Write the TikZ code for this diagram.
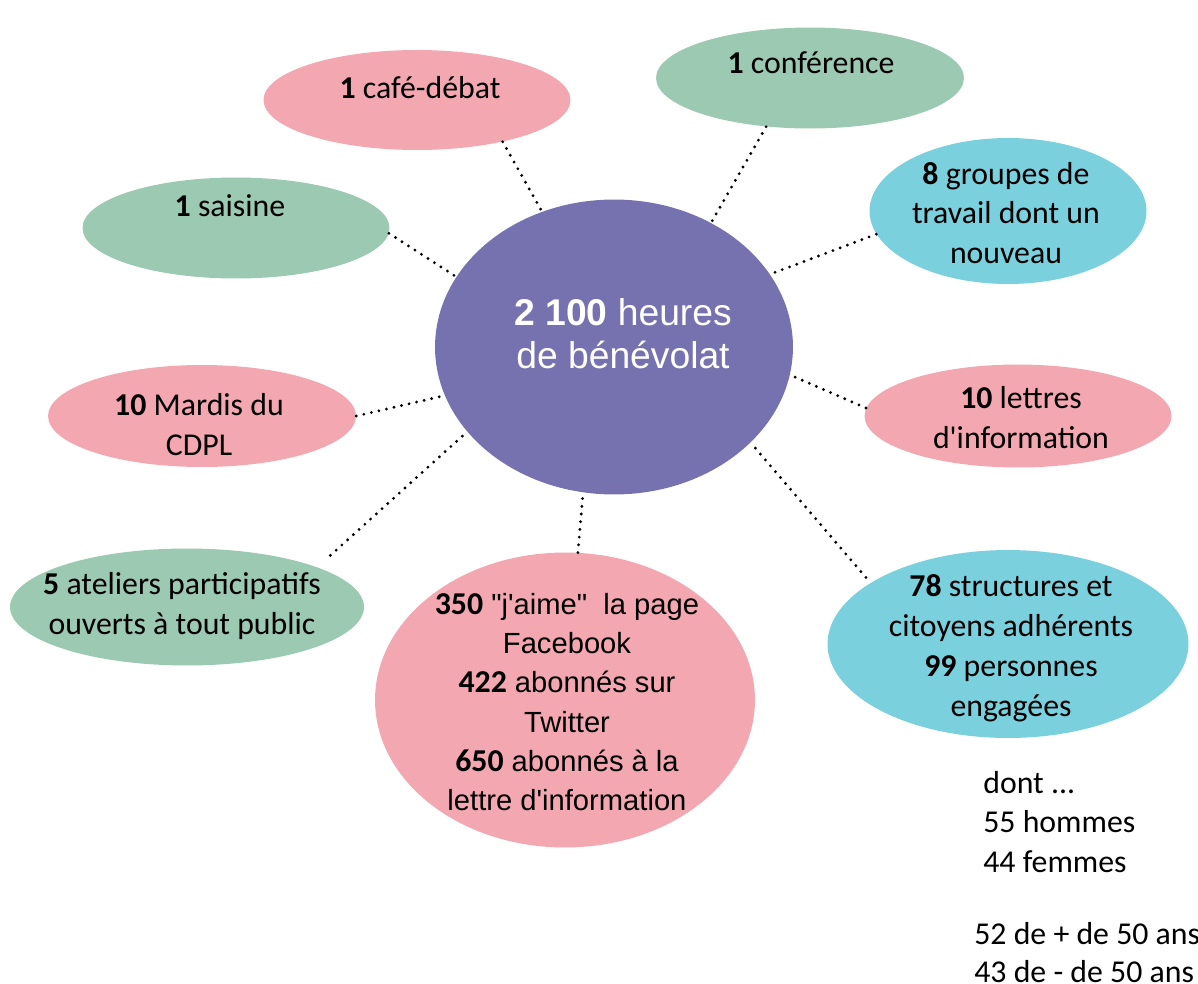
\documentclass[tikz,border=0pt]{standalone}
\usepackage{fontspec}
\newfontfamily\calibrif{Carlito}
\newfontfamily\arialf{Liberation Sans}
\usetikzlibrary{shapes.geometric}
\definecolor{pinkf}{HTML}{F3A7B1}
\definecolor{greenf}{HTML}{9CC9B1}
\definecolor{cyanf}{HTML}{7AD1DD}
\definecolor{purplef}{HTML}{7672B0}
\newcommand{\bnum}[1]{{\calibrif\bfseries\fontsize{18.1}{22.4}\selectfont #1}}
\tikzset{
  bub/.style={ellipse, inner sep=0pt, draw=none},
  lbl/.style={align=center, inner sep=0pt, font=\calibrif\fontsize{18.1}{22.7}\selectfont},
  albl/.style={align=center, inner sep=0pt, font=\arialf\fontsize{16.6}{22.4}\selectfont},
  note/.style={align=left, inner sep=0pt, anchor=west, font=\calibrif\fontsize{18.1}{22.7}\selectfont},
  link/.style={line width=1.8pt, dash pattern=on 0pt off 4.4pt, line cap=round, black},
}
\begin{document}
\begin{tikzpicture}[x=0.02cm,y=-0.02cm]
\useasboundingbox (0,0) rectangle (1198,984);
% bubbles
\node[bub, fill=purplef, minimum width=7.16cm, minimum height=5.9cm] (c) at (614,347) {};
\node[bub, fill=pinkf, minimum width=6.14cm, minimum height=2.0cm] (cafe) at (417,100) {};
\node[bub, fill=greenf, minimum width=6.16cm, minimum height=2.02cm] (conf) at (810,78) {};
\node[bub, fill=greenf, minimum width=6.14cm, minimum height=2.02cm] (sais) at (236,228) {};
\node[bub, fill=cyanf, minimum width=5.54cm, minimum height=2.92cm] (grp) at (1008,211) {};
\node[bub, fill=pinkf, minimum width=6.16cm, minimum height=2.04cm] (mard) at (202,416) {};
\node[bub, fill=pinkf, minimum width=6.14cm, minimum height=2.06cm] (lett) at (1018,416) {};
\node[bub, fill=greenf, minimum width=7.08cm, minimum height=2.34cm] (atel) at (187,607) {};
\node[bub, fill=pinkf, minimum width=7.6cm, minimum height=5.9cm] (bot) at (565,700) {};
\node[bub, fill=cyanf, minimum width=7.22cm, minimum height=3.76cm] (str) at (1008,644) {};
% texts
\node[align=center, inner sep=0pt, text=white, font=\arialf\fontsize{21.2}{24.4}\selectfont] (ct) at (623,334) {\textbf{2 100} heures\\de bénévolat};
\node[lbl] (cafet) at (420,88) {\textbf{1} café-débat};
\node[lbl] (conft) at (811,63) {\textbf{1} conférence};
\node[lbl] (saist) at (230,206) {\textbf{1} saisine};
\node[lbl] (grpt) at (1006,213) {\textbf{8} groupes de\\travail dont un\\nouveau};
\node[lbl] (mardt) at (199,425) {\textbf{10} Mardis du\\CDPL};
\node[lbl] (lettt) at (1021,418) {\textbf{10} lettres\\d'information};
\node[lbl] (atelt) at (182,606) {\textbf{5} ateliers participatifs\\ouverts à tout public};
\node[albl] (bott) at (567,702) {\bnum{350} "j'aime"\ \ la page\\Facebook\\\bnum{422} abonnés sur\\Twitter\\\bnum{650} abonnés à la\\lettre d'information};
\node[lbl] (strt) at (1011,648) {\textbf{78} structures et\\citoyens adhérents\\\textbf{99} personnes\\engagées};
\node[note] (n1) at (983,822) {dont ...\\55 hommes\\44 femmes};
\node[note, font=\calibrif\fontsize{18.1}{21.6}\selectfont] (n2) at (974,953) {52 de + de 50 ans\\43 de - de 50 ans};
% connectors
\draw[link] (cafe.-26) -- (c.118.7);
\draw[link] (conf.228) -- (c.52.5);
\draw[link] (sais.-2.6) -- (c.156.3);
\draw[link] (grp.190) -- (c.25.8);
\draw[link] (mard.0.7) -- (c.196.1);
\draw[link] (lett.177) -- (c.-9.9);
\draw[link, shorten <=10pt] (atel.17) -- (c.210.8);
\draw[link] (bot.85.7) -- (c.258.8);
\draw[link, shorten <=4pt] (str.156.3) -- (c.-35.9);
\end{tikzpicture}
\end{document}
